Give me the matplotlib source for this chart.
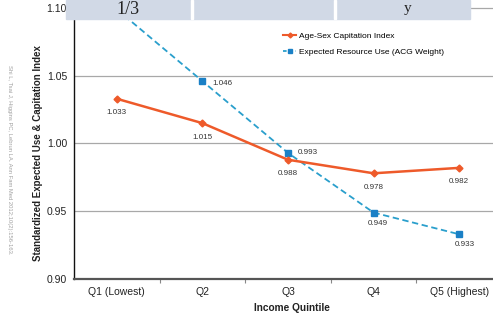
import matplotlib
matplotlib.use("Agg")
import matplotlib.pyplot as plt
from matplotlib.patches import Rectangle
from matplotlib.lines import Line2D

W, H = 493, 318
quintiles = ["Q1 (Lowest)", "Q2", "Q3", "Q4", "Q5 (Highest)"]
capitation = [1.033, 1.015, 0.988, 0.978, 0.982]
acg_weight = [1.099, 1.046, 0.993, 0.949, 0.933]
acg_labels = [None, "1.046", "0.993", "0.949", "0.933"]
yticks = [0.90, 0.95, 1.00, 1.05, 1.10]

orange = "#ee5a2a"
blue_line = "#2a9fcc"
blue_mark = "#1a80c6"
grid_c = "#a8a8a8"

plt.rcParams["font.family"] = ["Liberation Sans", "DejaVu Sans"]

fig = plt.figure(figsize=(W / 100, H / 100), dpi=100)
# axes in pixel terms: left 74, right 502 (cropped), bottom 279, top above image
ax = fig.add_axes([74 / W, (H - 279) / H, (502 - 74) / W, (279 + 5.6) / H])
ax.set_xlim(-0.5, 4.5)
ax.set_ylim(0.90, 1.11)

x = list(range(len(quintiles)))
ax.plot(x, acg_weight, color=blue_line, lw=1.3, ls=(0, (3.5, 2)), zorder=3)
ax.plot(x, acg_weight, ls="none", marker="s", ms=4.2, color=blue_mark, zorder=4)
ax.plot(x, capitation, color=orange, lw=1.8, marker="D", ms=3.5, zorder=5)

# data labels
for i, v in enumerate(capitation):
    ax.annotate(f"{v:.3f}", (i, v), xytext=(0, -10), textcoords="offset points",
                ha="center", va="center", fontsize=5.8, color="#333333")
offs = [None, (7, -2), (7, 0.5), (3, -8), (4, -7.5)]
for i, v in enumerate(acg_weight):
    if acg_labels[i] is None:
        continue
    dx, dy = offs[i]
    ha = "left" if i < 3 else "center"
    ax.annotate(acg_labels[i], (i, v), xytext=(dx, dy), textcoords="offset points",
                ha=ha, va="center", fontsize=5.8, color="#333333")

ax.set_yticks(yticks)
ax.set_yticklabels([f"{t:.2f}" for t in yticks], fontsize=7.5, color="#222222")
ax.set_xticks(x)
ax.set_xticklabels(quintiles, fontsize=7.5, color="#222222")
ax.tick_params(axis="y", length=0, pad=5)
ax.tick_params(axis="x", which="major", length=0, pad=6)
ax.set_xticks([0.5, 1.5, 2.5, 3.5], minor=True)
ax.tick_params(axis="x", which="minor", length=3, color="#888888", width=0.8)
ax.grid(axis="y", color=grid_c, lw=0.9)
ax.set_axisbelow(True)
for s in ["top", "right"]:
    ax.spines[s].set_visible(False)
ax.spines["left"].set_color("#111111")
ax.spines["left"].set_linewidth(1.0)
ax.spines["bottom"].set_color("#555555")
ax.spines["bottom"].set_linewidth(1.6)

fig.text(292 / W, 1 - 308 / H, "Income Quintile", ha="center", va="center",
         fontsize=7.3, fontweight="bold", color="#222222")
fig.text(38 / W, 1 - 153 / H, "Standardized Expected Use & Capitation Index",
         rotation=90, ha="center", va="center", fontsize=7, fontweight="bold",
         color="#222222")
fig.text(9 / W, 1 - 160 / H,
         "Shi L, Tsai J, Higgins PC, Lebrun LA. Ann Fam Med 2012;10(2):156-163.",
         rotation=270, ha="center", va="center", fontsize=4.2, color="#a0a0a0")

handles = [
    Line2D([], [], color=orange, lw=1.5, marker="D", ms=2.5),
    Line2D([], [], color=blue_line, lw=1.3, ls=(0, (2, 1.5)), marker="s",
           ms=3.5, mfc=blue_mark, mec=blue_mark),
]
fig.legend(handles, ["Age-Sex Capitation Index", "Expected Resource Use (ACG Weight)"],
           loc="upper left", bbox_to_anchor=(277 / W, 1 - 26 / H), frameon=False,
           fontsize=6, handlelength=1.6, handletextpad=0.3, labelspacing=1.0,
           borderpad=0.2)

# overlaid table header strip at top of screenshot
def px_rect(x0, y0, x1, y1, color):
    fig.patches.append(Rectangle((x0 / W, 1 - y1 / H), (x1 - x0) / W, (y1 - y0) / H,
                                 transform=fig.transFigure, color=color, zorder=10))

px_rect(66, 0, 470, 19, "#d1d9e6")
px_rect(191, 0, 193, 19, "white")
px_rect(334, 0, 336, 19, "white")
fig.text(128 / W, 1 - 14 / H, "1/3", ha="center", va="baseline", fontsize=13,
         family="Liberation Serif", color="#222222", zorder=11)
fig.text(408 / W, 1 - 12 / H, "y", ha="center", va="baseline", fontsize=11,
         family="Liberation Serif", color="#222222", zorder=11)

fig.savefig("out.png", dpi=100)
